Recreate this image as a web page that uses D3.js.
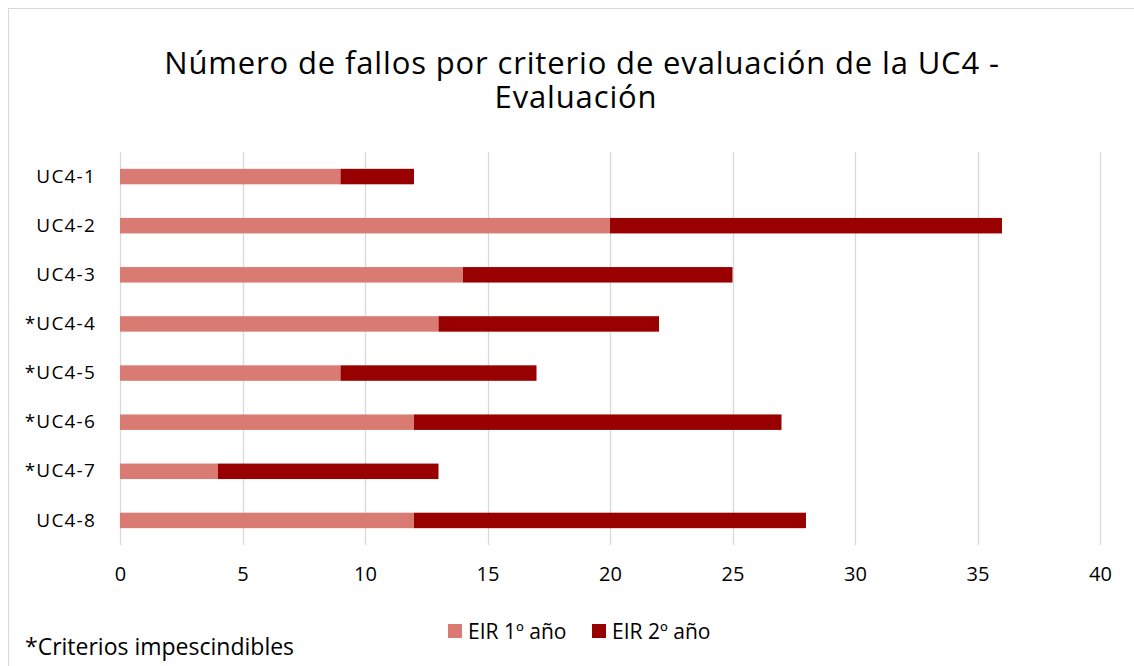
<!DOCTYPE html>
<html>
<head>
<meta charset="utf-8">
<script src="https://cdn.jsdelivr.net/npm/d3@7"></script>
<style>
	body { margin: 0; background: #fff; }
	text { font-family: 'Open Sans', sans-serif; fill: #000; }
</style>
</head>
<body>
<div id="chart"></div>
<script>
// data
const categories = ['UC4-1', 'UC4-2', 'UC4-3', '*UC4-4', '*UC4-5', '*UC4-6', '*UC4-7', 'UC4-8'];
const firstYear = [9, 20, 14, 13, 9, 12, 4, 12];
const secondYear = [3, 16, 11, 9, 8, 15, 9, 16];
const seriesNames = ['EIR 1º año', 'EIR 2º año'];
const xTicks = [0, 5, 10, 15, 20, 25, 30, 35, 40];

const width = 1134,
	height = 666;
const colors = ['#da7b73', '#990000'];
const margin = { top: 152, right: 34, bottom: 121, left: 120 };
const labelFont = "'Open Sans', sans-serif";

const svg = d3.select('#chart').append('svg').attr('width', width).attr('height', height);

// chart border
svg.append('rect')
	.attr('x', 8.5)
	.attr('y', 8.5)
	.attr('width', width)
	.attr('height', height)
	.attr('fill', '#fff')
	.attr('stroke', '#d9d9d9');

// title
const title = svg.append('text')
	.attr('text-anchor', 'middle')
	.style('font-size', '31px')
	.style('letter-spacing', '0.85px');
title.append('tspan').attr('x', 582).attr('y', 74).text('Número de fallos por criterio de evaluación de la UC4 -');
title.append('tspan').attr('x', 576).attr('y', 108).text('Evaluación');

const x = d3.scaleLinear().domain([0, 40]).range([margin.left, width - margin.right]);
const y = d3.scaleBand().domain(categories).range([margin.top, height - margin.bottom]).paddingInner(0.685).paddingOuter(0.3425);

// gridlines
svg.append('g')
	.selectAll('line')
	.data(xTicks)
	.join('line')
	.attr('x1', (d) => Math.round(x(d)) + 0.5)
	.attr('x2', (d) => Math.round(x(d)) + 0.5)
	.attr('y1', margin.top)
	.attr('y2', height - margin.bottom)
	.attr('stroke', '#d9d9d9')
	.attr('stroke-width', 1.3);

// x axis labels
const xAxis = svg.append('g')
	.attr('transform', `translate(0, ${height - margin.bottom + 2})`)
	.call(d3.axisBottom(x).tickValues(xTicks).tickSize(0).tickPadding(20));
xAxis.select('.domain').remove();
xAxis.selectAll('text').style('font-size', '20px').style('font-family', labelFont);

// y axis labels
const yAxis = svg.append('g')
	.attr('transform', `translate(${margin.left}, 0)`)
	.call(d3.axisLeft(y).tickSize(0).tickPadding(24));
yAxis.select('.domain').remove();
yAxis.selectAll('text').style('font-size', '19px').style('font-family', labelFont).style('letter-spacing', '1.2px');

// stacked bars
const rows = categories.map((c, i) => ({ cat: c, a: firstYear[i], b: secondYear[i] }));
const stack = d3.stack().keys(['a', 'b'])(rows);

svg.append('g')
	.selectAll('g')
	.data(stack)
	.join('g')
	.attr('fill', (d, i) => colors[i])
	.selectAll('rect')
	.data((d) => d)
	.join('rect')
	.attr('x', (d) => x(d[0]))
	.attr('width', (d) => x(d[1]) - x(d[0]))
	.attr('y', (d) => y(d.data.cat))
	.attr('height', y.bandwidth());

// legend
const legendX = [448, 592];
const legend = svg.append('g');
seriesNames.forEach((name, i) => {
	legend.append('rect')
		.attr('x', legendX[i])
		.attr('y', 624)
		.attr('width', 14)
		.attr('height', 14)
		.attr('fill', colors[i]);
	legend.append('text')
		.attr('x', legendX[i] + 20)
		.attr('y', 639)
		.style('font-size', '21px')
		.text(name);
});

// footnote
svg.append('text')
	.attr('x', 25)
	.attr('y', 655)
	.style('font-size', '23px')
	.text('*Criterios impescindibles');
</script>
</body>
</html>
